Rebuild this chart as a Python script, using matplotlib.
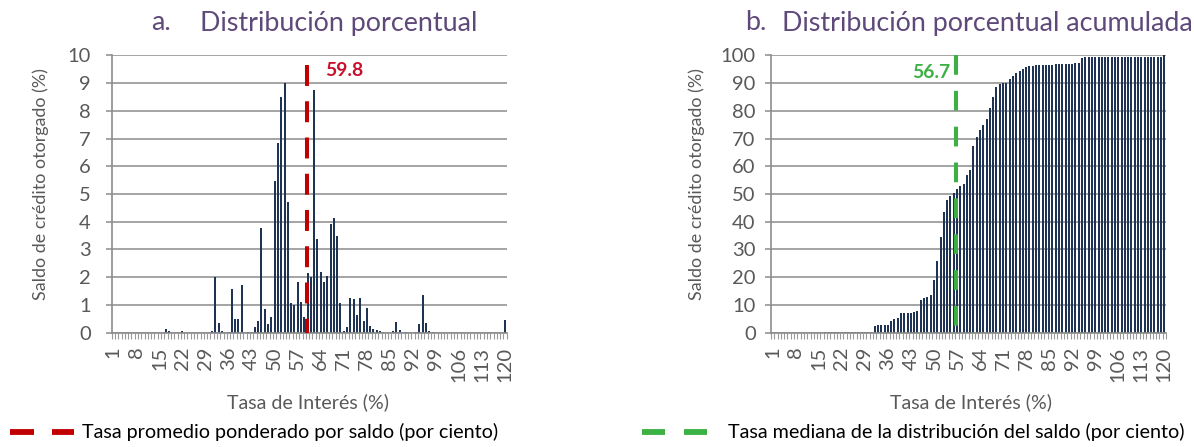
import matplotlib
matplotlib.use('Agg')
import matplotlib.pyplot as plt
from matplotlib.lines import Line2D
import numpy as np

plt.rcParams['font.family'] = ['Lato', 'DejaVu Sans']

# ---------------- data ----------------
categories = list(range(1, 121))
tick_labels = list(range(1, 121, 7))

pct = [
    0, 0, 0, 0, 0, 0, 0, 0, 0, 0,                              # 1-10
    0, 0, 0, 0, 0, 0, 0.12, 0.05, 0, 0,                        # 11-20
    0, 0.05, 0, 0, 0, 0, 0, 0, 0, 0,                           # 21-30
    0.05, 2.00, 0.36, 0.05, 0, 0.03, 1.57, 0.48, 0.48, 1.73,   # 31-40
    0, 0.03, 0.03, 0.22, 0.42, 3.79, 0.84, 0.30, 0.58, 5.46,   # 41-50
    6.85, 8.49, 8.99, 4.70, 1.06, 1.00, 1.83, 1.12, 0.58, 2.14,  # 51-60
    2.02, 8.75, 3.37, 2.18, 1.84, 2.04, 3.93, 4.12, 3.50, 1.07,  # 61-70
    0.07, 0.20, 1.26, 1.20, 0.64, 1.24, 0.43, 0.90, 0.25, 0.12,  # 71-80
    0.08, 0.06, 0.02, 0, 0, 0.06, 0.38, 0.10, 0, 0.02,         # 81-90
    0, 0, 0.03, 0.31, 1.35, 0.35, 0.06, 0.02, 0, 0,            # 91-100
    0, 0, 0, 0, 0, 0, 0, 0, 0, 0,                              # 101-110
    0, 0, 0, 0, 0, 0, 0, 0, 0, 0.44,                           # 111-120
]

cum = [
    0, 0, 0, 0, 0, 0, 0, 0, 0, 0,
    0, 0, 0, 0, 0, 0, 0.12, 0.17, 0.17, 0.17,
    0.17, 0.22, 0.22, 0.22, 0.22, 0.22, 0.22, 0.22, 0.22, 0.22,
    0.27, 2.40, 2.76, 2.80, 2.80, 2.83, 4.33, 4.80, 5.40, 7.20,
    7.20, 7.23, 7.26, 7.60, 7.90, 11.8, 12.6, 13.0, 13.5, 19.0,
    25.8, 34.4, 43.4, 48.0, 49.3, 50.2, 51.9, 53.0, 53.6, 56.7,
    58.7, 67.3, 70.7, 73.1, 74.9, 77.0, 80.9, 85.1, 88.7, 89.8,
    89.9, 90.1, 91.3, 92.7, 93.5, 94.5, 95.2, 95.9, 96.2, 96.3,
    96.4, 96.5, 96.5, 96.5, 96.5, 96.6, 96.9, 97.0, 97.0, 97.0,
    97.0, 97.0, 97.1, 97.4, 98.9, 99.3, 99.4, 99.4, 99.4, 99.4,
    99.4, 99.4, 99.4, 99.4, 99.4, 99.4, 99.4, 99.4, 99.4, 99.4,
    99.4, 99.4, 99.4, 99.4, 99.4, 99.4, 99.4, 99.4, 99.4, 100.0,
]

mean_rate = 59.8
median_rate = 56.7

title_a = ("a.", "Distribución porcentual")
title_b = ("b.", "Distribución porcentual acumulada")
xlabel = "Tasa de Interés (%)"
ylabel = "Saldo de crédito otorgado (%)"
legend_a = "Tasa promedio ponderado por saldo (por ciento)"
legend_b = "Tasa mediana de la distribución del saldo (por ciento)"

# ---------------- style ----------------
W, H = 1194, 447
NAVY = '#1f3354'
GRID = '#8c8c8c'
TXT = '#595959'
TITLE = '#5f497a'
RED = '#c00000'
RED_TXT = '#c8102e'
GREEN = '#3bb143'
TICK_SIZE = 14.5

fig = plt.figure(figsize=(W / 100, H / 100), dpi=100, facecolor='white')
renderer = fig.canvas.get_renderer()


def fx(px):
    return px / W


def fy(py):
    return 1 - py / H


def fit_text(s, x, y, width=None, height=None, size=None, **kw):
    t = fig.text(fx(x), fy(y), s, fontsize=10 if size is None else size, **kw)
    if size is None:
        bb = t.get_window_extent(renderer)
        if width is not None:
            t.set_fontsize(10 * width / bb.width)
        else:
            t.set_fontsize(10 * height / bb.height)
    return t


def make_axes(left_px, ymax, step, ypad):
    ax = fig.add_axes([fx(left_px), fy(332.7), 395 / W, 277.4 / H])
    ax.set_xlim(0.5, 120.5)
    ax.set_ylim(0, ymax)
    ax.set_yticks(np.arange(0, ymax + step / 2, step))
    ax.grid(axis='y', color=GRID, lw=1.1)
    ax.set_axisbelow(True)
    for s in ('top', 'right'):
        ax.spines[s].set_visible(False)
    for s in ('left', 'bottom'):
        ax.spines[s].set_color(GRID)
        ax.spines[s].set_linewidth(1.2)
    ax.set_xticks(tick_labels)
    ax.set_xticklabels([str(v) for v in tick_labels], rotation=90)
    ax.set_xticks(np.arange(0.5, 121, 1), minor=True)
    ax.tick_params(axis='x', which='major', length=0, pad=10,
                   labelsize=TICK_SIZE, labelcolor=TXT)
    ax.tick_params(axis='x', which='minor', length=4.5, width=0.8, color='#9a9a9a')
    ax.tick_params(axis='y', length=4, width=1.1, color=GRID,
                   labelsize=TICK_SIZE, labelcolor=TXT, pad=ypad)
    return ax


# ---------------- left panel ----------------
axL = make_axes(111.7, 10, 1, 11)
axL.bar(categories, pct, width=0.6, color=NAVY, zorder=2)
axL.plot([mean_rate, mean_rate], [9.65, 0], color=RED, lw=2.9,
         linestyle=(0, (5.2, 3.8)), solid_capstyle='butt', zorder=3)
lab = axL.annotate(f"{mean_rate}", xy=(mean_rate, 9.47), xytext=(13, 0),
                   textcoords='offset points', ha='left', va='center',
                   color=RED_TXT, fontweight='bold', fontsize=10)
bb = lab.get_window_extent(renderer)
val_size = 10 * 38 / bb.width
lab.set_fontsize(val_size)

# ---------------- right panel ----------------
axR = make_axes(771, 100, 10, 7)
axR.bar(categories, cum, width=0.6, color=NAVY, zorder=2)
axR.plot([median_rate, median_rate], [100, 0], color=GREEN, lw=2.9,
         linestyle=(0, (4.9, 4.0)), solid_capstyle='butt', zorder=3)
axR.annotate(f"{median_rate}", xy=(median_rate, 93.8), xytext=(-4, 0),
             textcoords='offset points', ha='right', va='center',
             color=GREEN, fontweight='bold', fontsize=val_size)

# ---------------- titles ----------------
tA = fit_text(title_a[1], 200, 23, width=279, ha='left', va='center', color=TITLE)
tsize = tA.get_fontsize()
fit_text(title_a[0], 151, 23, size=tsize, ha='left', va='center', color=TITLE)
fit_text(title_b[0], 745, 23, size=tsize, ha='left', va='center', color=TITLE)
fit_text(title_b[1], 782, 23, size=tsize, ha='left', va='center', color=TITLE)

# ---------------- axis labels ----------------
xl = fit_text(xlabel, 308, 402, width=162, ha='center', va='center', color=TXT)
fit_text(xlabel, 971, 402, size=xl.get_fontsize(), ha='center', va='center', color=TXT)
yl = fit_text(ylabel, 41, 184, height=232, rotation=90, ha='center', va='center', color=TXT)
fit_text(ylabel, 697, 184, size=yl.get_fontsize(), rotation=90, ha='center', va='center', color=TXT)

# ---------------- legends ----------------
for x0, x1 in [(9.5, 34), (51.5, 74)]:
    fig.add_artist(Line2D([fx(x0), fx(x1)], [fy(432), fy(432)], color=RED, lw=4.2,
                          solid_capstyle='butt'))
lg = fit_text(legend_a, 82, 432, width=418, ha='left', va='center', color='black')
for x0, x1 in [(642, 665), (684, 707)]:
    fig.add_artist(Line2D([fx(x0), fx(x1)], [fy(432), fy(432)], color=GREEN, lw=4.2,
                          solid_capstyle='butt'))
fit_text(legend_b, 728, 432, size=lg.get_fontsize(), ha='left', va='center', color='black')

fig.savefig('out.png', dpi=100, facecolor='white')
